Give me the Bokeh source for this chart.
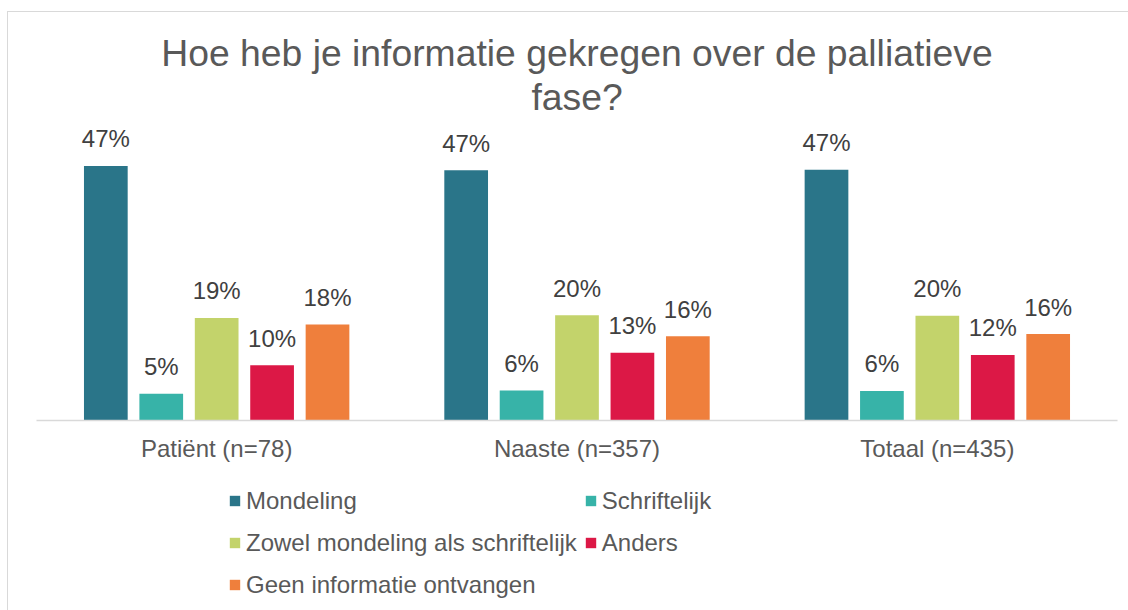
from bokeh.plotting import figure
from bokeh.layouts import column
from bokeh.models import (ColumnDataSource, FactorRange, Range1d, Legend,
                          LegendItem, Title)
from bokeh.transform import dodge
from bokeh.core.properties import value
from bokeh.embed import file_html
from bokeh.resources import INLINE

# ---- data ----
categories = ["Patiënt (n=78)", "Naaste (n=357)", "Totaal (n=435)"]
series = ["Mondeling", "Schriftelijk", "Zowel mondeling als schriftelijk",
          "Anders", "Geen informatie ontvangen"]
mondeling = [47.4, 46.6, 46.7]
schriftelijk = [5.0, 5.6, 5.5]
zowel = [19.1, 19.6, 19.5]
anders = [10.3, 12.6, 12.2]
geen = [17.9, 15.7, 16.1]
labels_mondeling = ["47%", "47%", "47%"]
labels_schriftelijk = ["5%", "6%", "6%"]
labels_zowel = ["19%", "20%", "20%"]
labels_anders = ["10%", "13%", "12%"]
labels_geen = ["18%", "16%", "16%"]
colors = ["#2a7589", "#37b3a8", "#c3d36b", "#dc1846", "#ef7f3c"]

values = [mondeling, schriftelijk, zowel, anders, geen]
labels = [labels_mondeling, labels_schriftelijk, labels_zowel, labels_anders, labels_geen]

FONT = "Liberation Sans"

# the chart is offset by 8px/12px inside a bordered box
p = figure(width=1120, height=458, output_backend="svg", toolbar_location=None,
           x_range=FactorRange(*categories, range_padding=0),
           y_range=Range1d(0, 55.5), y_axis_location=None,
           min_border_left=28, min_border_right=11, min_border_top=110,
           min_border_bottom=50)
p.outline_line_color = None
p.xgrid.visible = False
p.ygrid.visible = False

xa = p.xaxis[0]
xa.axis_line_color = "#d9d9d9"
xa.axis_line_width = 1.5
xa.major_tick_line_color = None
xa.minor_tick_line_color = None
xa.major_label_text_font = FONT
xa.major_label_text_font_size = "24px"
xa.major_label_text_color = "#595959"
xa.major_label_standoff = 8

step = 0.1538
bw = 0.1213
for i, (name, vals, labs, col) in enumerate(zip(series, values, labels, colors)):
    src = ColumnDataSource(dict(x=categories, top=vals, label=labs))
    off = (i - 2) * step
    p.vbar(x=dodge("x", off, range=p.x_range), top="top", width=bw,
           fill_color=col, line_color=None, source=src)
    p.text(x=dodge("x", off, range=p.x_range), y="top", text="label",
           text_align="center", text_baseline="alphabetic", y_offset=-27,
           text_font=value(FONT), text_font_size="24px", text_color="#404040",
           source=src)

t2 = Title(text="fase?", align="center", text_font=FONT, text_font_size="37.3px",
           text_font_style="normal", text_color="#595959", standoff=9,
           text_line_height=1.1)
t1 = Title(text="Hoe heb je informatie gekregen over de palliatieve", align="center",
           text_font=FONT, text_font_size="37.3px", text_font_style="normal",
           text_color="#595959", standoff=-9)
p.add_layout(t2, "above")
p.add_layout(t1, "above")

# legend panel (separate canvas so that nothing is clipped)
lg = figure(width=1120, height=140, output_backend="svg", toolbar_location=None,
            x_range=Range1d(0, 1), y_range=Range1d(0, 1),
            x_axis_location=None, y_axis_location=None,
            min_border_left=0, min_border_right=0, min_border_top=0,
            min_border_bottom=0)
lg.outline_line_color = None
lg.xgrid.visible = False
lg.ygrid.visible = False
items = []
for name, col in zip(series, colors):
    # zero-height proxy renderer that only provides the legend swatch
    proxy = ColumnDataSource(dict(x=[0.5], top=[0.0]))
    r = lg.vbar(x="x", top="top", width=0.0, fill_color=col, line_color=None,
                source=proxy)
    items.append(LegendItem(label=name, renderers=[r]))

legend = Legend(items=items, location=(192, 8), orientation="horizontal",
                ncols=2, glyph_width=13, glyph_height=13, label_standoff=5,
                label_height=35, label_text_font=FONT, label_text_font_size="24px",
                label_text_color="#595959", spacing=7, padding=0, margin=0,
                border_line_color=None, background_fill_alpha=0)
lg.add_layout(legend, "center")

layout = column(p, lg, spacing=0)
layout.styles = {"margin-left": "7px", "margin-top": "11px",
                 "border-left": "1px solid #d9d9d9",
                 "border-top": "1px solid #d9d9d9"}

open("out.html", "w").write(file_html(layout, INLINE))
